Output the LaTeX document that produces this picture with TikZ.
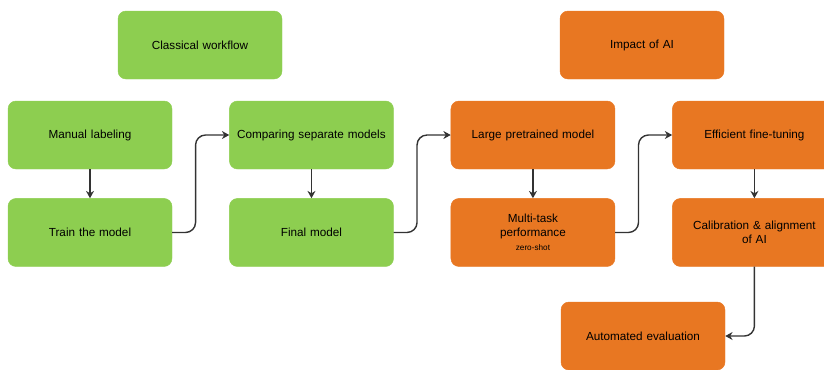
\documentclass[tikz,border=0pt]{standalone}
\usepackage{fontspec}
\setmainfont{Liberation Sans}
\usetikzlibrary{arrows.meta,positioning}
\definecolor{classicgreen}{RGB}{141,206,80}
\definecolor{aiorange}{RGB}{232,119,34}
\definecolor{linkgray}{RGB}{51,51,51}

\begin{document}
\begin{tikzpicture}[
    node distance=0.87cm and 1.71cm,
    gbox/.style={rectangle, draw=classicgreen, fill=classicgreen, text width=4.5cm, align=center, rounded corners=0.24cm, minimum width=4.92cm, minimum height=2.04cm, font=\normalsize},
    obox/.style={gbox, draw=aiorange, fill=aiorange},
    arrow/.style={-{Stealth[length=2.2mm,width=2.4mm]}, line width=1.2pt, linkgray},
    turnarrow/.style={arrow, rounded corners=0.3cm}
]
    \useasboundingbox (0,0) rectangle (24.72,-11.07);

    % Nodes
    \node[gbox] (gtitle) at (6.0,-1.35) {Classical workflow};
    \node[gbox] (label) at (2.7,-4.05) {Manual labeling};
    \node[gbox, below=of label] (train) {Train the model};
    \node[gbox, right=of label] (compare) {Comparing separate models};
    \node[gbox, below=of compare] (final) {Final model};

    \node[obox] (otitle) at (19.26,-1.35) {Impact of AI};
    \node[obox, right=of compare] (pretrain) {Large pretrained model};
    \node[obox, below=of pretrain] (multi) {Multi-task\\performance\\{\scriptsize zero-shot}};
    \node[obox, right=of pretrain] (tune) {Efficient fine-tuning};
    \node[obox, below=of tune] (align) {Calibration \& alignment\\of AI};
    \node[obox] (autoeval) at (19.29,-10.08) {Automated evaluation};

    % Arrows
    \draw[arrow] (label) -- (train);
    \draw[turnarrow] (train.east) -- ++(0.7,0) |- (compare.west);
    \draw[arrow] (compare) -- (final);
    \draw[turnarrow] (final.east) -- ++(0.7,0) |- (pretrain.west);
    \draw[arrow] (pretrain) -- (multi);
    \draw[turnarrow] (multi.east) -- ++(0.7,0) |- (tune.west);
    \draw[arrow] (tune) -- (align);
    \draw[turnarrow] (align.south) |- (autoeval.east);
\end{tikzpicture}
\end{document}
